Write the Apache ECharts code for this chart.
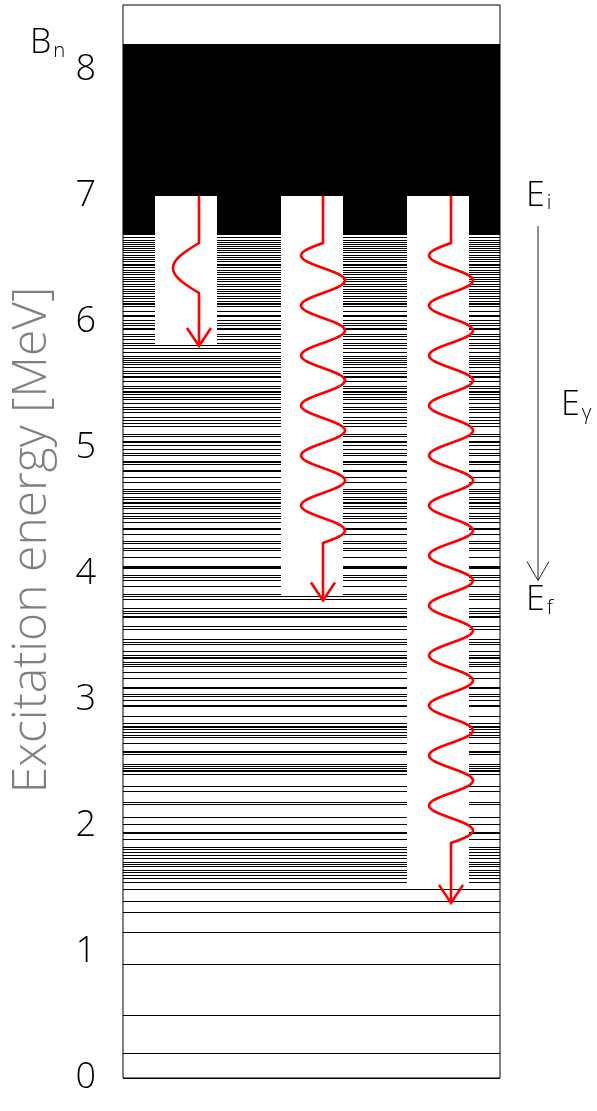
<!DOCTYPE html>
<html><head><meta charset="utf-8">
<script src="https://cdn.jsdelivr.net/npm/echarts@6/dist/echarts.min.js"></script>
<style>html,body{margin:0;padding:0;background:#fff}#c{width:597px;height:1111px}</style>
</head><body><div id="c"></div>
<script>
// ---------------- data ----------------
const LEVELS = [
 6.67, 6.65, 6.63, 6.615, 6.60, 6.58, 6.565, 6.55, 6.53, 6.515, 6.50, 6.48, 6.46, 6.45, 6.43, 6.41, 6.39, 6.375, 6.355, 6.335, 6.32, 6.30, 6.28, 6.26, 6.245, 6.23, 6.205, 6.185, 6.165, 6.15,
 6.135, 6.12, 6.08, 6.055, 6.04, 6.008, 5.992, 5.976, 5.952, 5.937, 5.897, 5.881, 5.865, 5.833, 5.81, 5.786, 5.754, 5.730, 5.714, 5.698, 5.675, 5.659, 5.635, 5.611, 5.595, 5.571, 5.556, 5.524, 5.492, 5.476, 5.452, 5.437, 5.421, 5.397, 5.381, 5.357, 5.325, 5.302, 5.278,
 5.246, 5.222, 5.198, 5.167, 5.111, 5.095, 5.048, 5.040, 5.016, 4.992, 4.960, 4.937, 4.889, 4.881, 4.873, 4.825, 4.810, 4.762, 4.730, 4.667, 4.651, 4.635, 4.611, 4.595, 4.571, 4.563, 4.532, 4.516, 4.484, 4.460, 4.437, 4.405,
 4.365, 4.357, 4.310, 4.254, 4.246, 4.206, 4.190, 4.127, 4.056, 4.048, 4.040, 3.992, 3.976, 3.952, 3.897, 3.841, 3.82, 3.794, 3.730, 3.706, 3.690, 3.659, 3.651, 3.587, 3.563,
 3.484, 3.460, 3.444, 3.381, 3.357, 3.341, 3.333, 3.294, 3.278, 3.262, 3.222, 3.167, 3.103, 3.095, 3.040, 3.024, 3.000, 2.960, 2.952, 2.873, 2.817, 2.786, 2.778, 2.762, 2.746, 2.722, 2.706,
 2.651, 2.595, 2.587, 2.571, 2.492, 2.476, 2.460, 2.444, 2.429, 2.405, 2.317, 2.270, 2.183, 2.167, 2.071, 2.008, 1.952, 1.937, 1.889, 1.833, 1.817,
 1.786, 1.762, 1.746, 1.714, 1.698, 1.675, 1.643, 1.627, 1.611, 1.587, 1.548, 1.50, 1.397, 1.310, 1.151, 0.897, 0.500, 0.198, 0
];
const Y_TICKS = [0, 1, 2, 3, 4, 5, 6, 7, 8];
const E_INITIAL = 7.0;
const E_FINAL = [5.81, 3.79, 1.39];
const COLUMN_BOTTOM = [5.81, 3.82, 1.50];
const E_BN = 8.21;
const CONTINUUM_LOW = 6.69;
const Y_TITLE = 'Excitation energy [MeV]';

// ---------------- layout ----------------
const XW = 377;
const COL_X = [[32, 94], [158, 220], [284, 346]];
const ARROW_X = [76, 200, 328];
const WAVE = [
  {type: 'bump', amp: 26, len: 50},
  {type: 'sine', amp: 22, period: 50},
  {type: 'sine', amp: 22, period: 50}
];
const FONT = "'Open Sans', 'DejaVu Sans', sans-serif";
const RED = '#ff0000';

const chart = echarts.init(document.getElementById('c'), null, {renderer: 'canvas'});

function px(api, x, e) { return api.coord([x, e]); }
const snap = v => Math.floor(v) + 0.5;

function renderContinuum(params, api) {
  const lo = api.value(0), hi = api.value(1), gaps = api.value(2);
  let segs = [], start = 0;
  if (gaps) { COL_X.forEach(c => { segs.push([start, c[0]]); start = c[1]; }); }
  segs.push([start, XW]);
  return {type: 'group', children: segs.map(s => {
    const p1 = px(api, s[0], hi), p2 = px(api, s[1], lo);
    const y1 = Math.round(p1[1]), y2 = Math.round(p2[1]);
    return {type: 'rect', shape: {x: Math.round(p1[0]), y: y1, width: Math.round(p2[0]) - Math.round(p1[0]), height: y2 - y1}, style: {fill: '#000'}};
  })};
}

function renderLevel(params, api) {
  const e = api.value(0);
  let segs = [], start = 0;
  COL_X.forEach((c, i) => {
    if (e > COLUMN_BOTTOM[i] && e < E_INITIAL) { segs.push([start, c[0]]); start = c[1]; }
  });
  segs.push([start, XW]);
  return {type: 'group', children: segs.map(s => {
    const a = px(api, s[0], e), b = px(api, s[1], e);
    const y = snap(a[1]);
    return {type: 'line', shape: {x1: Math.round(a[0]), y1: y, x2: Math.round(b[0]), y2: y}, style: {stroke: '#000', lineWidth: 1}};
  })};
}

function renderArrow(params, api) {
  const ei = api.value(0), ef = api.value(1), i = api.value(2);
  const top = px(api, ARROW_X[i], ei), tip = px(api, ARROW_X[i], ef);
  const cx = top[0];
  const w = WAVE[i];
  const pts = [[cx, top[1]]];
  const ws = top[1] + 47;
  let we;
  if (w.type === 'bump') {
    we = ws + w.len;
    pts.push([cx, ws]);
    for (let y = ws; y <= we; y += 1) {
      const t = (y - ws) / w.len;
      pts.push([cx - w.amp * Math.sin(Math.PI * t), y]);
    }
  } else {
    const n = Math.round((tip[1] - 58 - ws) / w.period);
    we = ws + n * w.period;
    pts.push([cx, ws]);
    for (let y = ws; y <= we; y += 1) {
      const t = (y - ws) / w.period;
      pts.push([cx - w.amp * Math.sin(2 * Math.PI * t), y]);
    }
  }
  pts.push([cx, we]);
  pts.push([cx, tip[1]]);
  return {type: 'group', children: [
    {type: 'polyline', shape: {points: pts}, style: {stroke: RED, lineWidth: 2.6, fill: null}},
    {type: 'polyline', shape: {points: [[cx - 12, tip[1] - 18], [cx, tip[1]], [cx + 12, tip[1] - 18]]}, style: {stroke: RED, lineWidth: 2.6, fill: null}}
  ]};
}

const option = {
  animation: false,
  backgroundColor: '#fff',
  grid: {left: 123, top: 5, width: XW, height: 1073, show: true, borderColor: '#000', borderWidth: 1, backgroundColor: 'transparent'},
  xAxis: {type: 'value', min: 0, max: XW, show: false},
  yAxis: {
    type: 'value', min: 0, max: 1073 / 126, interval: 1,
    axisLine: {show: false}, axisTick: {show: false}, splitLine: {show: false},
    axisLabel: {
      margin: 27, fontSize: 36, color: '#000', fontFamily: FONT, fontWeight: 300,
      showMaxLabel: false,
      formatter: v => (Y_TICKS.indexOf(Math.round(v)) >= 0 && Math.abs(v - Math.round(v)) < 1e-6) ? String(Math.round(v)) : ''
    }
  },
  series: [
    {type: 'custom', renderItem: renderContinuum, data: [[CONTINUUM_LOW, E_INITIAL, 1], [E_INITIAL, E_BN, 0]], silent: true, z: 1},
    {type: 'custom', renderItem: renderLevel, data: LEVELS.map(e => [e]), silent: true, z: 2},
    {type: 'custom', renderItem: renderArrow, data: E_FINAL.map((ef, i) => [E_INITIAL, ef, i]), silent: true, z: 3}
  ]
};
chart.setOption(option);

// annotations positioned from data values
const g = (x, e) => chart.convertToPixel({gridIndex: 0}, [x, e]);
const pBn = g(0, E_BN), pEi = g(XW, E_INITIAL), pEf = g(XW, E_FINAL[1]);
const ax = pEi[0] + 38;
const yTop = pEi[1] + 30, yTip = pEf[1] - 20;
const sub = (main, s, fs) => ({
  text: '{m|' + main + '}{s|' + s + '}',
  rich: {
    m: {fontSize: fs, fontFamily: FONT, fontWeight: 300, fill: '#000'},
    s: {fontSize: fs * 0.6, fontFamily: FONT, fontWeight: 300, fill: '#000', padding: [fs * 0.45, 0, 0, 2]}
  }
});
chart.setOption({graphic: [
  {type: 'text', x: 32, y: 540, rotation: Math.PI / 2,
   style: {text: Y_TITLE, fontSize: 48, fontFamily: FONT, fontWeight: 300, fill: '#808080', align: 'center', verticalAlign: 'middle'}},
  {type: 'text', x: 30, y: pBn[1], style: Object.assign(sub('B', 'n', 34), {verticalAlign: 'middle', align: 'left'})},
  {type: 'text', x: pEi[0] + 26, y: pEi[1], style: Object.assign(sub('E', 'i', 34), {verticalAlign: 'middle', align: 'left'})},
  {type: 'text', x: pEf[0] + 26, y: pEf[1], style: Object.assign(sub('E', 'f', 34), {verticalAlign: 'middle', align: 'left'})},
  {type: 'text', x: pEi[0] + 61, y: (yTop + yTip) / 2 + 2, style: Object.assign(sub('E', 'γ', 34), {verticalAlign: 'middle', align: 'left'})},
  {type: 'line', shape: {x1: ax, y1: yTop, x2: ax, y2: yTip}, style: {stroke: '#222', lineWidth: 1}},
  {type: 'polyline', shape: {points: [[ax - 11, yTip - 19], [ax, yTip], [ax + 11, yTip - 19]]}, style: {stroke: '#222', lineWidth: 1, fill: null}}
]});
</script>
</body></html>
